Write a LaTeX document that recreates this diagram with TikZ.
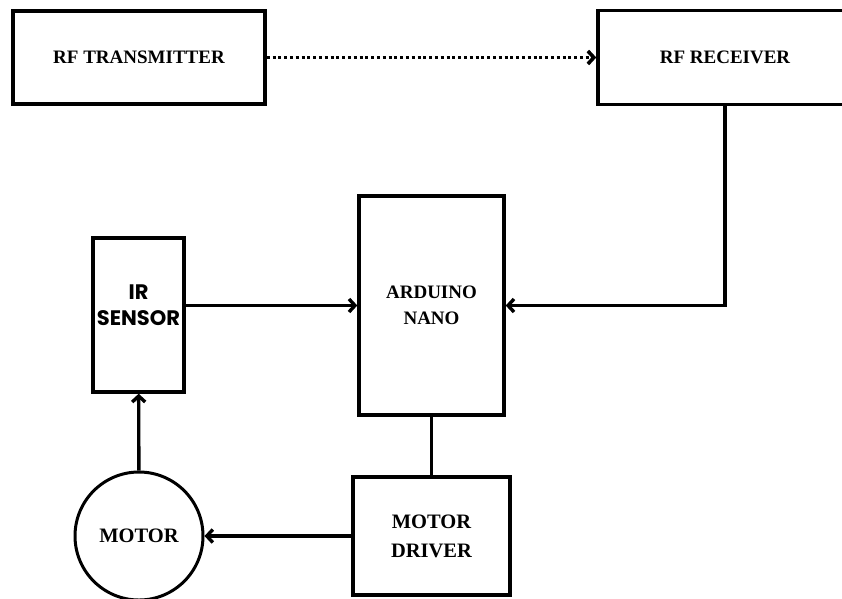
\documentclass[tikz,border=0pt]{standalone}
\usepackage{fontspec}
\setmainfont{Liberation Serif}
\newfontfamily\irfont{Poppins}
\usetikzlibrary{positioning,shapes,arrows.meta}

\begin{document}
\begin{tikzpicture}
    [x=1pt,y=-1pt,>={Straight Barb[length=6pt,width=13pt]},every node/.style={draw, line width=3.4pt, rectangle, inner sep=0pt, align=center, font=\bfseries\fontsize{19}{26}\selectfont}]
  \useasboundingbox (0,0) rectangle (842,598);
  \node[minimum width=252pt, minimum height=93pt] (tx) at (139,57.5) {RF TRANSMITTER};
  \node[minimum width=254pt, minimum height=94pt] (rx) at (725,57.5) {RF RECEIVER};
  \node[minimum width=145pt, minimum height=219pt] (nano) at (431.5,305.5) {ARDUINO\\NANO};
  \node[minimum width=91pt, minimum height=154pt,
        label={[draw=none, yshift=10pt, font=\irfont\bfseries\fontsize{21}{26}\selectfont, align=center]center:IR\\SENSOR}] (ir) at (138.5,315) {};
  \node[minimum width=157pt, minimum height=118pt, font=\bfseries\fontsize{20.5}{29}\selectfont] (drv) at (431.5,536) {MOTOR\\DRIVER};
  \node[circle, minimum size=128pt, line width=3pt, font=\bfseries\fontsize{20.5}{26}\selectfont] (mot) at (139,536) {MOTOR};

  % wireless link
  \draw[->, line width=3.6pt, dash pattern=on 3pt off 2.8pt] (tx) -- (rx);

  \draw[->, line width=3.4pt] (rx.south) |- (nano.east);
  \draw[->, line width=3.4pt] (ir.east |- nano.west) -- (nano.west);
  \draw[line width=3.4pt] (nano) -- (drv);
  \draw[->, line width=3.4pt] (drv) -- (mot);
  \draw[->, line width=3.4pt] (mot) -- (ir);
\end{tikzpicture}
\end{document}
